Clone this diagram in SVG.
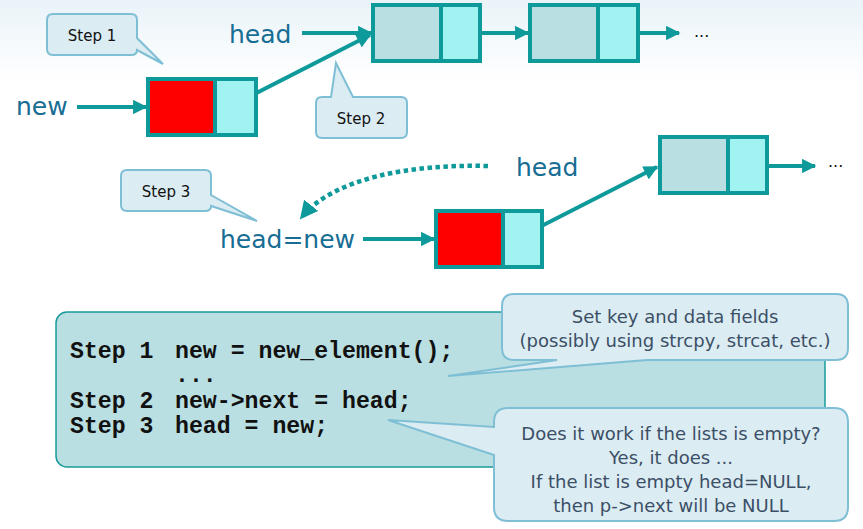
<svg xmlns="http://www.w3.org/2000/svg" width="863" height="529" viewBox="0 0 863 529">
<defs>
<linearGradient id="bg" x1="0" y1="0" x2="0" y2="1">
<stop offset="0" stop-color="#e9f3f8"/>
<stop offset="1" stop-color="#ffffff"/>
</linearGradient>
<marker id="ah" viewBox="0 0 10 10" refX="9" refY="5" markerWidth="4" markerHeight="3.6" orient="auto" markerUnits="strokeWidth">
<path d="M0,0 L10,5 L0,10 Z" fill="#0e9a9a"/>
</marker>
<marker id="ahd" viewBox="0 0 10 10" refX="9" refY="5" markerWidth="4" markerHeight="4" orient="auto" markerUnits="strokeWidth">
<path d="M0,0 L10,5 L0,10 Z" fill="#0e9a9a"/>
</marker>
</defs>
<style>
.cell{stroke:#0e9a9a;stroke-width:4}
.data{fill:#b9dfe2}
.red{fill:#ff0000}
.ptr{fill:#a0f3f0}
.conn{stroke:#0e9a9a;stroke-width:4;fill:none;marker-end:url(#ah)}
.lbl{font-family:"DejaVu Sans",Verdana,sans-serif;font-size:25px;fill:#176d93}
.call{fill:#dbecf2;stroke:#7fbfd5;stroke-width:2}
.ct{font-family:"DejaVu Sans",Verdana,sans-serif;font-size:15px;fill:#111;text-anchor:middle}
.bt{font-family:"DejaVu Sans",Verdana,sans-serif;font-size:18px;fill:#3b4f66;text-anchor:middle}
.code{font-family:"Liberation Mono","Courier New",monospace;font-weight:bold;font-size:23.2px;fill:#111}
.dots{font-family:"DejaVu Sans",Verdana,sans-serif;font-size:16px;fill:#111}
</style>
<rect x="0" y="0" width="863" height="80" fill="url(#bg)"/>

<g id="connectors">
<line class="conn" x1="77" y1="107" x2="146" y2="107"/>
<line class="conn" x1="302" y1="33" x2="371" y2="33"/>
<line class="conn" x1="233" y1="105" x2="370" y2="35"/>
<line class="conn" x1="463" y1="33" x2="528" y2="33"/>
<line class="conn" x1="623" y1="33" x2="679" y2="33"/>
<line class="conn" x1="363" y1="239" x2="434" y2="239"/>
<line class="conn" x1="520" y1="237" x2="657" y2="167"/>
<line class="conn" x1="751" y1="166" x2="815" y2="166"/>
<path d="M488,166 C410,164 333,178 301,218" stroke="#0e9a9a" stroke-width="4.5" fill="none" stroke-dasharray="4.5 3.5" marker-end="url(#ahd)"/>
</g>

<g id="new-node">
<rect class="cell red" x="148" y="79" width="67" height="56"/>
<rect class="cell ptr" x="215" y="79" width="41" height="56"/>
</g>
<g id="node-a">
<rect class="cell data" x="373" y="5" width="68" height="56"/>
<rect class="cell ptr" x="441" y="5" width="39" height="56"/>
</g>
<g id="node-b">
<rect class="cell data" x="530" y="5" width="68" height="56"/>
<rect class="cell ptr" x="598" y="5" width="40" height="56"/>
</g>
<g id="node-c">
<rect class="cell data" x="660" y="137" width="68" height="56"/>
<rect class="cell ptr" x="728" y="137" width="39" height="56"/>
</g>
<g id="new-node-2">
<rect class="cell red" x="436" y="211" width="67" height="56"/>
<rect class="cell ptr" x="503" y="211" width="39" height="56"/>
</g>

<g id="labels">
<text class="lbl" x="16" y="115">new</text>
<text class="lbl" x="229" y="43">head</text>
<text class="lbl" x="516" y="176">head</text>
<text class="lbl" x="220" y="248">head=new</text>
<text class="dots" x="694" y="37">...</text>
<text class="dots" x="828" y="167">...</text>
</g>

<g id="step1">
<path class="call" d="M53,14 H131 Q137,14 137,20 V38 L163,64 L137,50 Q137,55 131,55 H53 Q47,55 47,49 V20 Q47,14 53,14 Z"/>
<text class="ct" x="92" y="41">Step 1</text>
</g>
<g id="step2">
<path class="call" d="M322,97 H331 L336,63 L353,97 H401 Q407,97 407,103 V132 Q407,138 401,138 H322 Q316,138 316,132 V103 Q316,97 322,97 Z"/>
<text class="ct" x="361" y="124">Step 2</text>
</g>
<g id="step3">
<path class="call" d="M127,170 H205 Q211,170 211,176 V195 L257,221 L211,206 Q211,211 205,211 H127 Q121,211 121,205 V176 Q121,170 127,170 Z"/>
<text class="ct" x="166" y="197">Step 3</text>
</g>

<g id="code">
<rect x="56" y="312" width="769" height="155" rx="11" fill="#b9dfe2" stroke="#1a9a9a" stroke-width="1.5"/>
<text class="code" x="70" y="358">Step 1</text>
<text class="code" x="175" y="358">new = new_element();</text>
<text class="code" x="175" y="382">...</text>
<text class="code" x="70" y="408">Step 2</text>
<text class="code" x="175" y="408">new-&gt;next = head;</text>
<text class="code" x="70" y="433">Step 3</text>
<text class="code" x="175" y="433">head = new;</text>
</g>

<g id="note-fields">
<path class="call" d="M514,294 H836 Q848,294 848,306 V348 Q848,360 836,360 H647 L448,376 L557,360 H514 Q502,360 502,348 V306 Q502,294 514,294 Z"/>
<text class="bt" x="675" y="323">Set key and data fields</text>
<text class="bt" x="675" y="347">(possibly using strcpy, strcat, etc.)</text>
</g>
<g id="note-empty">
<path class="call" d="M508,408 H834 Q848,408 848,422 V507 Q848,521 834,521 H508 Q494,521 494,507 V455 L388,420 L494,427 V422 Q494,408 508,408 Z"/>
<text class="bt" x="671" y="440">Does it work if the lists is empty?</text>
<text class="bt" x="671" y="464">Yes, it does ...</text>
<text class="bt" x="671" y="488">If the list is empty head=NULL,</text>
<text class="bt" x="671" y="512">then p-&gt;next will be NULL</text>
</g>
</svg>
